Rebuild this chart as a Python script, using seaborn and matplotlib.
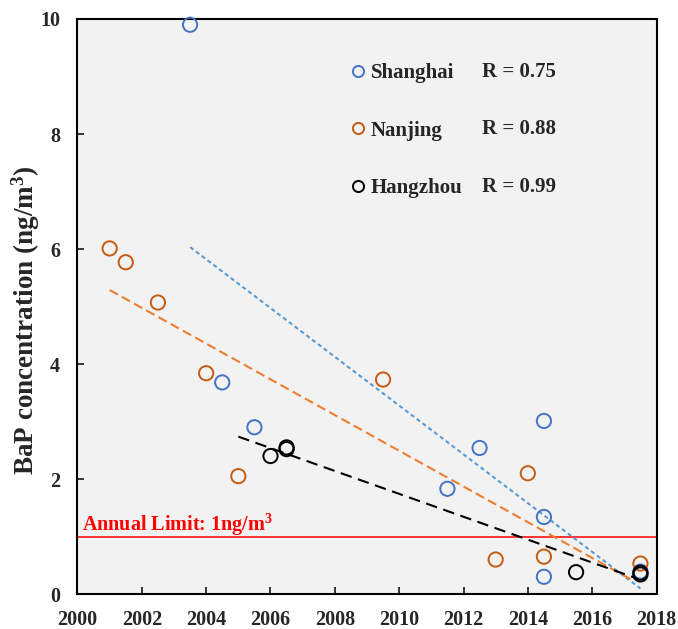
import numpy as np
import pandas as pd
import matplotlib
matplotlib.use("Agg")
import matplotlib.pyplot as plt
from matplotlib.lines import Line2D
import seaborn as sns

# ---------------- data ----------------
cities = ["Shanghai", "Nanjing", "Hangzhou"]
r_labels = ["R = 0.75", "R = 0.88", "R = 0.99"]

years_shanghai = [2003.5, 2004.5, 2005.5, 2011.5, 2012.5, 2014.5, 2014.5, 2014.5, 2017.5]
bap_shanghai = [9.90, 3.68, 2.90, 1.83, 2.54, 3.01, 1.34, 0.30, 0.39]

years_nanjing = [2001, 2001.5, 2002.5, 2004, 2005, 2009.5, 2013, 2014, 2014.5, 2017.5]
bap_nanjing = [6.01, 5.77, 5.07, 3.84, 2.05, 3.73, 0.60, 2.10, 0.65, 0.53]

years_hangzhou = [2006, 2006.5, 2006.5, 2015.5, 2017.5, 2017.5]
bap_hangzhou = [2.40, 2.55, 2.52, 0.38, 0.37, 0.34]

fit_start = [2003.5, 2001, 2005]
fit_end = [2017.5, 2017.3, 2017.5]

annual_limit = 1.0
x_ticks = list(range(2000, 2019, 2))
y_ticks = [0, 2, 4, 6, 8, 10]

# ---------------- style ----------------
marker_colors = {"Shanghai": "#4472C4", "Nanjing": "#C55A11", "Hangzhou": "#000000"}
line_colors = {"Shanghai": "#5B9BD5", "Nanjing": "#ED7D31", "Hangzhou": "#000000"}
line_dashes = {"Shanghai": (2, 1.5), "Nanjing": (4.5, 2.2), "Hangzhou": (5.5, 3.2)}

sns.set_style("ticks")
plt.rcParams["font.family"] = ["Liberation Serif", "DejaVu Serif"]
plt.rcParams["font.weight"] = "bold"
plt.rcParams["mathtext.fontset"] = "custom"
plt.rcParams["mathtext.rm"] = "Liberation Serif:bold"
plt.rcParams["mathtext.bf"] = "Liberation Serif:bold"
plt.rcParams["mathtext.it"] = "Liberation Serif:bold"

df = pd.concat([
    pd.DataFrame({"year": years_shanghai, "bap": bap_shanghai, "city": "Shanghai"}),
    pd.DataFrame({"year": years_nanjing, "bap": bap_nanjing, "city": "Nanjing"}),
    pd.DataFrame({"year": years_hangzhou, "bap": bap_hangzhou, "city": "Hangzhou"}),
], ignore_index=True)

fig = plt.figure(figsize=(6.78, 6.29), dpi=100)
ax = fig.add_axes([0.1143, 0.0556, 0.854, 0.9142])
ax.set_facecolor("#F2F2F2")

# limit line
ax.axhline(annual_limit, color="#FF0000", lw=1.1, zorder=2)
ax.text(2000.15, annual_limit + 0.10, "Annual Limit: 1ng/m$^{3}$", color="#FF0000",
        fontsize=14.5, fontweight="bold", va="baseline", ha="left")

# regression lines
for i, city in enumerate(cities):
    sub = df[df.city == city]
    slope, intercept = np.polyfit(sub.year, sub.bap, 1)
    xs = np.array([fit_start[i], fit_end[i]])
    fit_df = pd.DataFrame({"year": xs, "bap": slope * xs + intercept})
    sns.lineplot(data=fit_df, x="year", y="bap", ax=ax, color=line_colors[city],
                 lw=1.5, dashes=False, zorder=3).lines[-1].set_dashes(line_dashes[city])

# points
for city in cities:
    sub = df[df.city == city]
    sns.scatterplot(data=sub, x="year", y="bap", ax=ax, s=105, marker="o",
                    facecolor="none", edgecolor=marker_colors[city], linewidth=1.4,
                    zorder=4, clip_on=False)

ax.set_xlim(2000, 2018)
ax.set_ylim(0, 10)
ax.set_xticks(x_ticks)
ax.set_yticks(y_ticks)
ax.set_xlabel("")
ax.set_ylabel("BaP concentration (ng/m$^{3}$)", fontsize=19.5, fontweight="bold")
ax.yaxis.set_label_coords(-0.061, 0.476)

for sp in ax.spines.values():
    sp.set_visible(True)
    sp.set_color("black")
    sp.set_linewidth(1.5)
ax.tick_params(axis="both", direction="in", length=5, width=1.3, labelsize=14.5,
               top=False, right=False)
ax.tick_params(axis="x", pad=11.5)
ax.tick_params(axis="y", pad=12.5)
for lab in ax.get_xticklabels() + ax.get_yticklabels():
    lab.set_fontweight("bold")

# legend
handles = [Line2D([], [], ls="none", marker="o", markerfacecolor="none",
                  markeredgecolor=marker_colors[c], markeredgewidth=1.4, markersize=8)
           for c in cities]
leg = ax.legend(handles, cities, loc="center left", bbox_to_anchor=(0.470, 0.806),
                frameon=False, borderpad=0, borderaxespad=0, handlelength=0.8,
                handletextpad=0.2, labelspacing=1.8,
                prop={"family": "Liberation Serif", "weight": "bold", "size": 15})
row_y = [0.908, 0.808, 0.708]
for ry, rl in zip(row_y, r_labels):
    ax.text(0.698, ry, rl, transform=ax.transAxes, fontsize=15, fontweight="bold",
            va="center", ha="left")

fig.savefig("out.png", dpi=100)
